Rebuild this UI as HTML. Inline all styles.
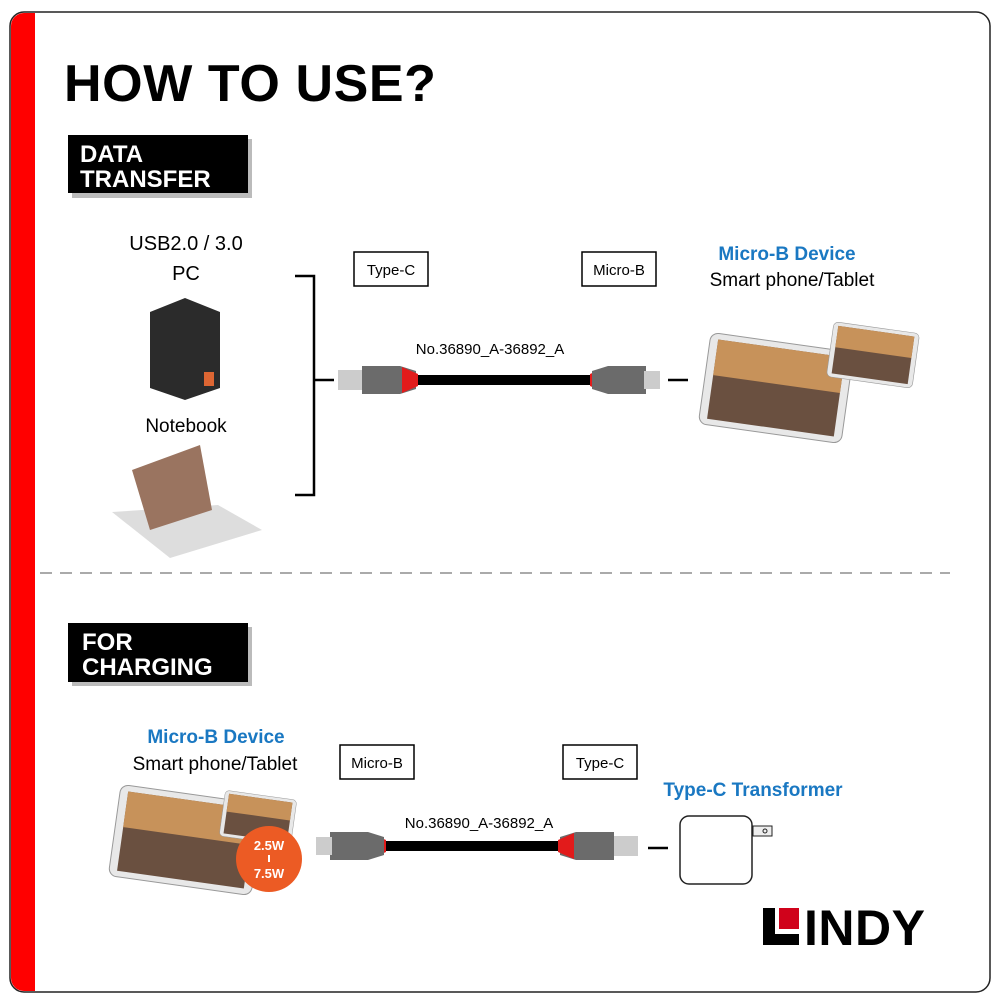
<!DOCTYPE html>
<html><head><meta charset="utf-8"><style>
body{margin:0;width:1000px;height:1000px;background:#fff;overflow:hidden}
text{font-family:"Liberation Sans",sans-serif}
</style></head><body>
<svg width="1000" height="1000" viewBox="0 0 1000 1000">
<defs>
<g id="cable">
 <rect x="0" y="-10" width="26" height="20" fill="#ccc"/>
 <path d="M24,-14 L62,-14 L78,-9 L78,9 L62,14 L24,14 Z" fill="#6b6b6b"/>
 <path d="M64,-13 L80,-6 L80,6 L64,13 Z" fill="#e21b1b"/>
 <rect x="80" y="-5" width="172" height="10" fill="#000"/>
 <path d="M268,-13 L252,-6 L252,6 L268,13 Z" fill="#e21b1b"/>
 <path d="M308,-14 L270,-14 L254,-9 L254,9 L270,14 L308,14 Z" fill="#6b6b6b"/>
 <rect x="306" y="-9" width="16" height="18" fill="#ccc"/>
</g>
<g id="tab">
 <rect x="-72" y="-46" width="144" height="92" rx="8" fill="#e8e8e8" stroke="#999"/>
 <rect x="-64" y="-40" width="128" height="80" fill="#6a5040"/>
 <rect x="-64" y="-40" width="128" height="36" fill="#c7925a"/>
</g>
</defs>
<rect x="10" y="12" width="980" height="980" rx="14" fill="#fff" stroke="#222" stroke-width="1.5"/>
<path d="M24,13 L35,13 L35,991 L24,991 A13,13 0 0 1 11,978 L11,26 A13,13 0 0 1 24,13 Z" fill="#f00"/>
<text x="64" y="101" font-size="52" font-weight="bold" fill="#000" letter-spacing="0.6">HOW TO USE?</text>

<rect x="72" y="139" width="180" height="59" fill="#bbb"/>
<rect x="68" y="135" width="180" height="58" fill="#000"/>
<text x="80" y="162" font-size="24" font-weight="bold" fill="#fff">DATA</text>
<text x="80" y="187" font-size="24" font-weight="bold" fill="#fff">TRANSFER</text>

<text x="186" y="250" font-size="20" text-anchor="middle">USB2.0 / 3.0</text>
<text x="186" y="280" font-size="20" text-anchor="middle">PC</text>
<path d="M150,312 L185,298 L220,312 L220,388 L185,400 L150,388 Z" fill="#2b2b2b"/>
<rect x="204" y="372" width="10" height="14" fill="#d63"/>
<text x="186" y="432" font-size="19" text-anchor="middle">Notebook</text>
<path d="M112,512 L218,505 L262,530 L170,558 Z" fill="#ddd"/>
<path d="M132,470 L200,445 L212,510 L150,530 Z" fill="#9a7460"/>

<path d="M295,276 H314 V495 H295" fill="none" stroke="#000" stroke-width="2.5"/>
<line x1="314" y1="380" x2="334" y2="380" stroke="#000" stroke-width="2.5"/>
<rect x="354" y="252" width="74" height="34" fill="#fff" stroke="#000" stroke-width="1.5"/>
<text x="391" y="275" font-size="15" text-anchor="middle">Type-C</text>
<rect x="582" y="252" width="74" height="34" fill="#fff" stroke="#000" stroke-width="1.5"/>
<text x="619" y="275" font-size="15" text-anchor="middle">Micro-B</text>
<text x="490" y="354" font-size="15" text-anchor="middle">No.36890_A-36892_A</text>
<use href="#cable" x="338" y="380"/>
<line x1="668" y1="380" x2="688" y2="380" stroke="#000" stroke-width="2.5"/>
<text x="787" y="260" font-size="19" font-weight="bold" fill="#1a78c2" text-anchor="middle">Micro-B Device</text>
<text x="792" y="286" font-size="19" text-anchor="middle">Smart phone/Tablet</text>
<g transform="translate(776,388) rotate(8)"><use href="#tab"/></g>
<g transform="translate(873,355) rotate(8) scale(0.6)"><use href="#tab"/></g>

<line x1="40" y1="573" x2="950" y2="573" stroke="#aaa" stroke-width="2" stroke-dasharray="12,8"/>

<rect x="72" y="627" width="180" height="59" fill="#bbb"/>
<rect x="68" y="623" width="180" height="59" fill="#000"/>
<text x="82" y="650" font-size="24" font-weight="bold" fill="#fff">FOR</text>
<text x="82" y="675" font-size="24" font-weight="bold" fill="#fff">CHARGING</text>

<text x="216" y="743" font-size="19" font-weight="bold" fill="#1a78c2" text-anchor="middle">Micro-B Device</text>
<text x="215" y="770" font-size="19" text-anchor="middle">Smart phone/Tablet</text>
<g transform="translate(186,840) rotate(8)"><use href="#tab"/></g>
<g transform="translate(258,818) rotate(8) scale(0.5)"><use href="#tab"/></g>
<circle cx="269" cy="859" r="33" fill="#ec5b24"/>
<text x="269" y="850" font-size="13" font-weight="bold" fill="#fff" text-anchor="middle">2.5W</text>
<line x1="269" y1="855" x2="269" y2="862" stroke="#fff" stroke-width="2"/>
<text x="269" y="878" font-size="13" font-weight="bold" fill="#fff" text-anchor="middle">7.5W</text>

<rect x="340" y="745" width="74" height="34" fill="#fff" stroke="#000" stroke-width="1.5"/>
<text x="377" y="768" font-size="15" text-anchor="middle">Micro-B</text>
<rect x="563" y="745" width="74" height="34" fill="#fff" stroke="#000" stroke-width="1.5"/>
<text x="600" y="768" font-size="15" text-anchor="middle">Type-C</text>
<text x="479" y="828" font-size="15" text-anchor="middle">No.36890_A-36892_A</text>
<g transform="translate(638,846) scale(-1,1)"><use href="#cable"/></g>
<line x1="648" y1="848" x2="668" y2="848" stroke="#000" stroke-width="2.5"/>
<text x="753" y="796" font-size="19" font-weight="bold" fill="#1a78c2" text-anchor="middle">Type-C Transformer</text>
<rect x="680" y="816" width="72" height="68" rx="9" fill="#fff" stroke="#222" stroke-width="1.5"/>
<rect x="753" y="826" width="19" height="10" fill="#eee" stroke="#222" stroke-width="1"/>
<circle cx="765" cy="831" r="2" fill="none" stroke="#222"/>

<rect x="763" y="908" width="12" height="37" fill="#000"/>
<rect x="763" y="934" width="36" height="11" fill="#000"/>
<rect x="779" y="908" width="20" height="21" fill="#d0021b"/>
<text x="804" y="945" font-size="50" font-weight="bold" fill="#000" letter-spacing="0.5">INDY</text>
</svg>
</body></html>
